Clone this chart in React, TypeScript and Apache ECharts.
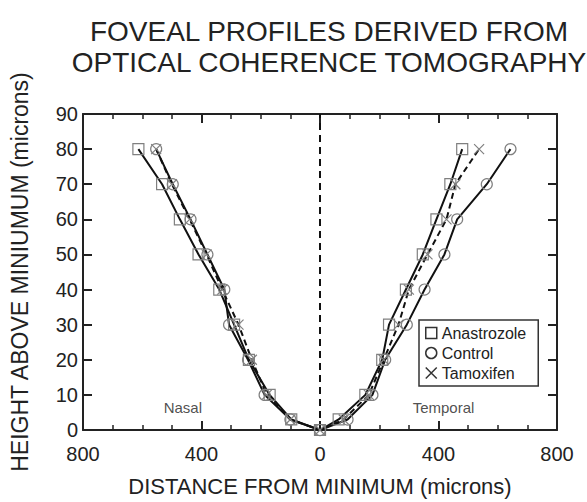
import React, { useEffect, useRef } from "react";
import * as echarts from "echarts";

const heights = [80, 70, 60, 50, 40, 30, 20, 10, 3, 0];
const heightsUp = [3, 10, 20, 30, 40, 50, 60, 70, 80];

const anaNasal = [-613, -533, -473, -410, -340, -290, -240, -170, -97, 0];
const anaTemporal = [63, 153, 210, 233, 290, 347, 393, 440, 480];

const ctlNasal = [-553, -497, -437, -380, -323, -307, -243, -187, -100, 0];
const ctlTemporal = [93, 177, 220, 293, 353, 420, 463, 563, 643];

const tamNasal = [-553, -500, -440, -383, -330, -275, -230, -180, -100, 0];
const tamTemporal = [80, 165, 215, 265, 300, 363, 427, 457, 537];

const regionLabels = ["Nasal", "Temporal"];
const regionX = [-463, 417];
const regionY = [6.5, 6.5];

const xTicks = [-800, -400, 0, 400, 800];

const X_PATH = "path://M0,0L10,10M10,0L0,10";

function pairs(nasal: number[], temporal: number[]) {
  const left = nasal.map((x, i) => [x, heights[i]]);
  const right = temporal.map((x, i) => [x, heightsUp[i]]);
  return [...left, ...right];
}

const FONT = "Liberation Sans, Arial, sans-serif";

export default function App() {
  const ref = useRef<HTMLDivElement>(null);
  useEffect(() => {
    if (!ref.current) return;
    const chart = echarts.init(ref.current, null, { renderer: "svg" });
    const axisLine = { show: true, onZero: false, lineStyle: { color: "#222", width: 2 } };
    const symColor = "#808080";
    const seriesCommon = {
      type: "line",
      symbolSize: 11,
      lineStyle: { color: "#111", width: 2 },
      itemStyle: { color: "transparent", borderColor: symColor, borderWidth: 1.2 },
      z: 3,
    };
    chart.setOption({
      animation: false,
      backgroundColor: "#fff",
      textStyle: { fontFamily: FONT },
      title: {
        text: "FOVEAL PROFILES DERIVED FROM\nOPTICAL COHERENCE TOMOGRAPHY",
        left: 324,
        textAlign: "center",
        top: 11,
        textStyle: { fontSize: 28, fontWeight: "normal", color: "#222", lineHeight: 31, fontFamily: FONT },
      },
      legend: {
        orient: "vertical",
        left: 419,
        top: 320,
        padding: [5, 12, 5, 6],
        itemGap: 4,
        itemWidth: 11,
        itemHeight: 11,
        borderColor: "#333",
        borderWidth: 1.5,
        textStyle: { fontSize: 16, color: "#222", fontFamily: FONT },
        itemStyle: { color: "transparent", borderColor: "#333", borderWidth: 1.5 },
        data: [
          { name: "Anastrozole", icon: "rect" },
          { name: "Control", icon: "circle" },
          { name: "Tamoxifen", icon: X_PATH },
        ],
      },
      grid: { left: 77, right: 30, top: 114, bottom: 69 },
      xAxis: [
        {
          type: "value",
          min: -800,
          max: 800,
          interval: 400,
          position: "bottom",
          axisLine,
          axisTick: { show: true, inside: true, length: 9, lineStyle: { color: "#222", width: 2 } },
          minorTick: { show: true, splitNumber: 4, length: 5, lineStyle: { color: "#222", width: 1.5 } },
          splitLine: { show: false },
          axisLabel: {
            fontSize: 20,
            color: "#222",
            margin: 14,
            fontFamily: FONT,
            formatter: (v: number) => (xTicks.includes(v) ? String(Math.abs(v)) : ""),
          },
          name: "DISTANCE FROM MINIMUM (microns)",
          nameLocation: "middle",
          nameGap: 45,
          nameTextStyle: { fontSize: 22, color: "#222", fontFamily: FONT },
        },
        {
          type: "value",
          min: -800,
          max: 800,
          interval: 400,
          position: "top",
          axisLine,
          axisTick: { show: true, inside: true, length: 9, lineStyle: { color: "#222", width: 2 } },
          minorTick: { show: true, splitNumber: 4, length: 5, lineStyle: { color: "#222", width: 1.5 } },
          splitLine: { show: false },
          axisLabel: { show: false },
        },
      ],
      yAxis: [
        {
          type: "value",
          min: 0,
          max: 90,
          interval: 10,
          position: "left",
          axisLine,
          axisTick: { show: true, inside: true, length: 9, lineStyle: { color: "#222", width: 2 } },
          splitLine: { show: false },
          axisLabel: { fontSize: 20, color: "#222", margin: 5, fontFamily: FONT },
          name: "HEIGHT ABOVE MINIUMUM (microns)",
          nameLocation: "middle",
          nameRotate: 90,
          nameGap: 52,
          nameTextStyle: { fontSize: 23, color: "#222", fontFamily: FONT },
        },
        {
          type: "value",
          min: 0,
          max: 90,
          interval: 10,
          position: "right",
          axisLine,
          axisTick: { show: true, inside: true, length: 9, lineStyle: { color: "#222", width: 2 } },
          splitLine: { show: false },
          axisLabel: { show: false },
        },
      ],
      series: [
        {
          name: "zero",
          type: "line",
          data: [[0, 0], [0, 90]],
          symbol: "none",
          silent: true,
          lineStyle: { color: "#111", width: 2, type: [7, 5] },
          z: 2,
        },
        {
          ...seriesCommon,
          name: "Anastrozole",
          symbol: "rect",
          data: pairs(anaNasal, anaTemporal),
        },
        {
          ...seriesCommon,
          name: "Control",
          symbol: "circle",
          data: pairs(ctlNasal, ctlTemporal),
        },
        {
          ...seriesCommon,
          name: "Tamoxifen",
          symbol: X_PATH,
          symbolSize: 10,
          lineStyle: { color: "#111", width: 2, type: [6, 4] },
          data: pairs(tamNasal, tamTemporal),
        },
        {
          name: "regions",
          type: "scatter",
          symbolSize: 0,
          silent: true,
          data: regionLabels.map((n, i) => ({ value: [regionX[i], regionY[i]], name: n })),
          label: {
            show: true,
            position: "inside",
            formatter: (p: any) => p.name,
            fontSize: 15,
            color: "#222",
            fontFamily: FONT,
          },
        },
      ],
    });
    return () => chart.dispose();
  }, []);
  return (
    <div
      ref={ref}
      style={{ position: "fixed", left: 0, top: 0, width: 587, height: 502, overflow: "hidden" }}
    />
  );
}
